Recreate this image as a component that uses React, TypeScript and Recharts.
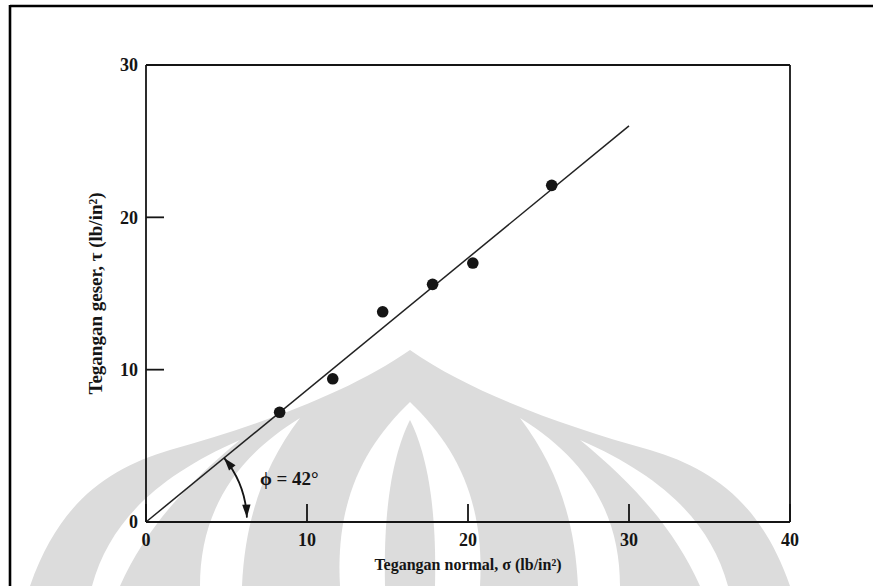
import React from 'react';
import { ScatterChart, Scatter, XAxis, YAxis, ReferenceLine, ReferenceDot } from 'recharts';

// ---- data ----
const sigmaValues = [8.3, 11.6, 14.7, 17.8, 20.3, 25.2];
const tauValues = [7.2, 9.4, 13.8, 15.6, 17.0, 22.1];
const fitStart = { x: 0, y: 0 };
const fitEnd = { x: 30, y: 26 };
const xTicks = [0, 10, 20, 30, 40];
const yTicks = [0, 10, 20, 30];
const topTicks = [10, 20, 30];
const rightTicks = [10, 20];
const xTitle = 'Tegangan normal, σ (lb/in²)';
const yTitle = 'Tegangan geser, τ (lb/in²)';
const angleText = 'ϕ = 42°';
const angleTextPos = { x: 8.9, y: 2.85 };

const points = sigmaValues.map((s, i) => ({ x: s, y: tauValues[i] }));

const FONT = '"Liberation Serif", "Times New Roman", serif';
const INK = '#151515';
const WM = '#dcdcdc';

const tickStyle = { fontSize: 18, fontWeight: 700, fill: INK, fontFamily: FONT };

const Dot = (p: any) => <circle cx={p.cx} cy={p.cy} r={5.8} fill={INK} />;

const AngleArc = (p: any) => {
  const cx = p.cx, cy = p.cy;
  const r = 101;
  const aTop = (39.4 * Math.PI) / 180;
  const aBot = (2.5 * Math.PI) / 180;
  const P = (a: number) => [cx + r * Math.cos(a), cy - r * Math.sin(a)];
  const [x1, y1] = P(aTop);
  const [x2, y2] = P(aBot);
  const head = (a: number, dir: number) => {
    const [tx, ty] = P(a);
    const dx = dir * -Math.sin(a);
    const dy = dir * -Math.cos(a);
    const L = 13, W = 4.2;
    const bx = tx - dx * L, by = ty - dy * L;
    const nx = -dy, ny = dx;
    return `M${tx},${ty} L${bx + nx * W},${by + ny * W} L${bx - nx * W},${by - ny * W} Z`;
  };
  return (
    <g>
      <path d={`M${x1},${y1} A${r},${r} 0 0 1 ${x2},${y2}`} fill="none" stroke={INK} strokeWidth={1.8} />
      <path d={head(aTop, 1)} fill={INK} />
      <path d={head(aBot, -1)} fill={INK} />
    </g>
  );
};

const AngleLabel = (p: any) => (
  <text x={p.cx} y={p.cy} textAnchor="middle" dominantBaseline="central"
    style={{ fontSize: 19, fontWeight: 700, fill: INK, fontFamily: FONT }}>{angleText}</text>
);

const Watermark = () => (
  <svg width={873} height={586} style={{ position: 'absolute', left: 0, top: 0 }}>
    <path d="M30,586 C60,500 110,468 170,450 C260,425 350,392 410,350 C470,392 560,425 650,450 C710,468 760,500 790,586 Z" fill={WM} />
    <g fill="#ffffff">
      <path d="M92,586 C110,520 160,475 240,440 C185,485 145,530 120,586 Z" />
      <path d="M200,586 C200,520 228,462 300,418 C262,468 245,522 242,586 Z" />
      <path d="M728,586 C710,520 660,475 580,440 C635,485 675,530 700,586 Z" />
      <path d="M620,586 C620,520 592,462 520,418 C558,468 575,522 578,586 Z" />
      <path d="M340,586 C335,500 365,445 410,402 C455,445 485,500 480,586 Z" />
    </g>
    <path d="M385,586 C383,500 395,450 410,420 C425,450 437,500 435,586 Z" fill={WM} />
    <line x1={10} y1={6} x2={873} y2={6} stroke="#000" strokeWidth={2.6} />
    <line x1={10} y1={5} x2={10} y2={586} stroke="#000" strokeWidth={2.6} />
  </svg>
);

export default function App() {
  return (
    <div style={{ position: 'absolute', left: 0, top: 0, width: 873, height: 586, background: '#fff' }}>
      <Watermark />
      <div style={{ position: 'absolute', left: 0, top: 0 }}>
        <ScatterChart width={873} height={586} margin={{ top: 64, right: 82, bottom: 0, left: 86 }}>
          <XAxis xAxisId="bottom" type="number" dataKey="x" domain={[0, 40]} ticks={xTicks}
            orientation="bottom" height={64} tickSize={-18} tickMargin={29}
            axisLine={{ stroke: INK, strokeWidth: 1.8 }} tickLine={{ stroke: INK, strokeWidth: 1.8 }}
            tick={tickStyle} interval={0}
            label={{ value: xTitle, position: 'insideBottom', offset: 16,
              style: { fontSize: 16, fontWeight: 700, fill: INK, fontFamily: FONT } }} />
          <XAxis xAxisId="top" type="number" dataKey="x" domain={[0, 40]} ticks={topTicks}
            orientation="top" height={1} tickSize={-18} tickFormatter={() => ''}
            axisLine={{ stroke: INK, strokeWidth: 1.8 }} tickLine={{ stroke: INK, strokeWidth: 1.8 }} />
          <YAxis yAxisId="left" type="number" dataKey="y" domain={[0, 30]} ticks={yTicks}
            orientation="left" width={60} tickSize={-18} tickMargin={26}
            axisLine={{ stroke: INK, strokeWidth: 1.8 }} tickLine={{ stroke: INK, strokeWidth: 1.8 }}
            tick={tickStyle} interval={0}
            label={{ value: yTitle, angle: -90, position: 'insideLeft', offset: 9,
              style: { textAnchor: 'middle', fontSize: 19, fontWeight: 700, fill: INK, fontFamily: FONT } }} />
          <YAxis yAxisId="right" type="number" dataKey="y" domain={[0, 30]} ticks={rightTicks}
            orientation="right" width={1} tickSize={-18} tickFormatter={() => ''}
            axisLine={{ stroke: INK, strokeWidth: 1.8 }} tickLine={{ stroke: INK, strokeWidth: 1.8 }} />
          <ReferenceLine xAxisId="bottom" yAxisId="left" segment={[fitStart, fitEnd]}
            stroke="#222" strokeWidth={1.5} ifOverflow="visible" />
          <ReferenceDot xAxisId="bottom" yAxisId="left" x={0} y={0} shape={AngleArc} ifOverflow="visible" />
          <ReferenceDot xAxisId="bottom" yAxisId="left" x={angleTextPos.x} y={angleTextPos.y}
            shape={AngleLabel} ifOverflow="visible" />
          <Scatter xAxisId="bottom" yAxisId="left" data={points} shape={Dot} isAnimationActive={false} />
        </ScatterChart>
      </div>
    </div>
  );
}
